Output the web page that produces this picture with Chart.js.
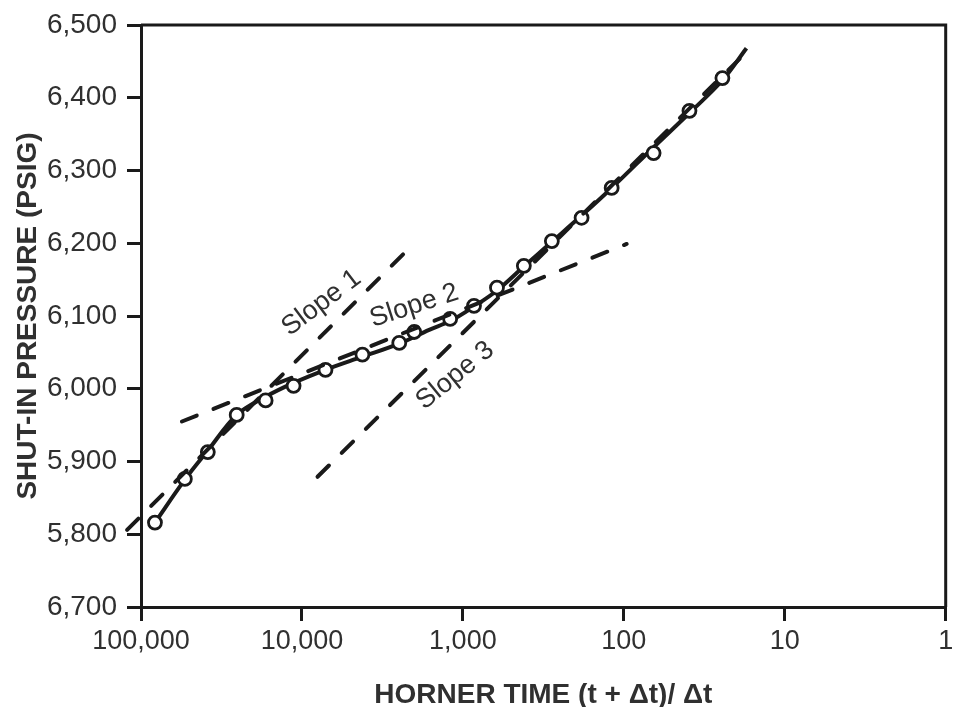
<!DOCTYPE html>
<html>
<head>
<meta charset="utf-8">
<title>Horner plot</title>
<script src="https://cdn.jsdelivr.net/npm/chart.js@4.4.1/dist/chart.umd.min.js"></script>
<style>
  html, body { margin: 0; padding: 0; background: #fff; }
</style>
</head>
<body>
<canvas id="horner" width="955" height="707"></canvas>
<script>
// Measured points: Horner time (t + dt)/dt vs shut-in pressure
const hornerTime = [81900, 53400, 38450, 25430, 16810, 11270, 7140, 4210, 2485, 2006, 1200, 853, 614, 418, 280, 183, 119, 65.3, 39.1, 24.4];
const shutInPressure = [5816, 5876, 5913, 5964, 5984, 6004, 6026, 6047, 6063, 6078, 6096, 6114, 6139, 6169, 6203, 6235, 6276, 6324, 6382, 6427];

// Drawn trend curve through the points
const curveTime = [81900, 53400, 38450, 25430, 16810, 11270, 7140, 4210, 2485, 1620, 1200, 853, 614, 418, 280, 183, 119, 65.3, 39.1, 24.4, 17.3];
const curvePressure = [5816, 5875, 5915, 5964, 5989, 6008, 6026, 6044, 6062, 6081, 6093, 6113, 6135, 6168, 6202, 6238, 6276, 6332, 6379, 6424, 6468];

// Straight line slopes (end points)
const slope1Time = [122000, 2030];
const slope1Pressure = [5806, 6199];
const slope2Time = [55700, 96];
const slope2Pressure = [5955, 6199];
const slope3Time = [8000, 18];
const slope3Pressure = [5879, 6459];

const xTicks = [100000, 10000, 1000, 100, 10, 1];
const yTicks = [5700, 5800, 5900, 6000, 6100, 6200, 6300, 6400, 6500];
const yTickLabels = ['6,700', '5,800', '5,900', '6,000', '6,100', '6,200', '6,300', '6,400', '6,500'];

const INK = '#1a1a1a';
const TEXT = '#303030';
const FONT = 'Arial, "Liberation Sans", sans-serif';

const toPoints = (xs, ys) => xs.map((x, i) => ({ x: x, y: ys[i] }));

// where the "Slope n" notes sit (data units) and how they're tilted
const slopeNotes = [
    { text: 'Slope 1', x: 7560, y: 6118, angle: -37 },
    { text: 'Slope 2', x: 2006, y: 6114, angle: -18 },
    { text: 'Slope 3', x: 1117, y: 6018, angle: -39 }
];

const boxAndNotes = {
    id: 'boxAndNotes',
    afterDatasetsDraw(chart) {
        const { ctx, chartArea: a, scales: { x, y } } = chart;
        ctx.save();

        // top and right edges of the frame
        ctx.strokeStyle = INK;
        ctx.lineWidth = 3;
        ctx.beginPath();
        ctx.moveTo(a.left, a.top);
        ctx.lineTo(a.right, a.top);
        ctx.lineTo(a.right, a.bottom);
        ctx.stroke();

        ctx.font = '27px ' + FONT;
        ctx.fillStyle = TEXT;
        ctx.textAlign = 'center';
        ctx.textBaseline = 'middle';
        slopeNotes.forEach(n => {
            ctx.save();
            ctx.translate(x.getPixelForValue(n.x), y.getPixelForValue(n.y));
            ctx.rotate(n.angle * Math.PI / 180);
            ctx.fillText(n.text, 0, 0);
            ctx.restore();
        });
        ctx.restore();
    }
};

const dashed = {
    borderColor: INK,
    borderWidth: 4,
    borderDash: [16, 18],
    borderCapStyle: 'round',
    pointRadius: 0,
    fill: false,
    order: 0
};

new Chart(document.getElementById('horner'), {
    type: 'line',
    data: {
        datasets: [
            Object.assign({ label: 'Slope 1', data: toPoints(slope1Time, slope1Pressure), clip: false }, dashed),
            Object.assign({ label: 'Slope 2', data: toPoints(slope2Time, slope2Pressure) }, dashed),
            Object.assign({ label: 'Slope 3', data: toPoints(slope3Time, slope3Pressure) }, dashed),
            {
                label: 'Measured',
                data: toPoints(hornerTime, shutInPressure),
                showLine: false,
                pointRadius: 6.5,
                pointBorderWidth: 2.8,
                pointBackgroundColor: '#ffffff',
                pointBorderColor: INK,
                order: 1
            },
            {
                label: 'Trend',
                data: toPoints(curveTime, curvePressure),
                borderColor: INK,
                borderWidth: 4,
                tension: 0.35,
                pointRadius: 0,
                fill: false,
                order: 2
            }
        ]
    },
    options: {
        responsive: false,
        animation: false,
        layout: { padding: { top: 25, right: 7, bottom: 0, left: 0 } },
        plugins: {
            legend: { display: false },
            tooltip: { enabled: false }
        },
        scales: {
            x: {
                type: 'logarithmic',
                reverse: true,
                min: 1,
                max: 100000,
                afterBuildTicks: s => { s.ticks = xTicks.map(v => ({ value: v })); },
                afterFit: s => { s.height = 100; s.paddingLeft = 0; s.paddingRight = 0; },
                grid: { display: true, drawOnChartArea: false, drawTicks: true, tickLength: 14, lineWidth: 3, color: INK },
                border: { display: true, width: 3, color: INK },
                ticks: {
                    autoSkip: false,
                    maxRotation: 0,
                    padding: 4,
                    color: TEXT,
                    font: { size: 27, family: FONT },
                    callback: v => Number(v).toLocaleString('en-US')
                },
                title: {
                    display: true,
                    text: 'HORNER TIME (t + Δt)/ Δt',
                    color: TEXT,
                    font: { size: 28, weight: 'bold', family: FONT, lineHeight: 1 },
                    padding: { top: 0, bottom: -2 }
                }
            },
            y: {
                min: 5700,
                max: 6500,
                afterBuildTicks: s => { s.ticks = yTicks.map(v => ({ value: v })); },
                afterFit: s => { s.width = 141; s.paddingTop = 0; s.paddingBottom = 0; },
                grid: { display: true, drawOnChartArea: false, drawTicks: true, tickLength: 14, lineWidth: 3, color: INK },
                border: { display: true, width: 3, color: INK },
                ticks: {
                    autoSkip: false,
                    padding: 10,
                    color: TEXT,
                    font: { size: 28, family: FONT },
                    callback: (v, i) => yTickLabels[i]
                },
                title: {
                    display: true,
                    text: 'SHUT-IN PRESSURE (PSIG)',
                    color: TEXT,
                    font: { size: 28, weight: 'bold', family: FONT },
                    padding: { top: 11, bottom: 0 }
                }
            }
        }
    },
    plugins: [boxAndNotes]
});
</script>
</body>
</html>
